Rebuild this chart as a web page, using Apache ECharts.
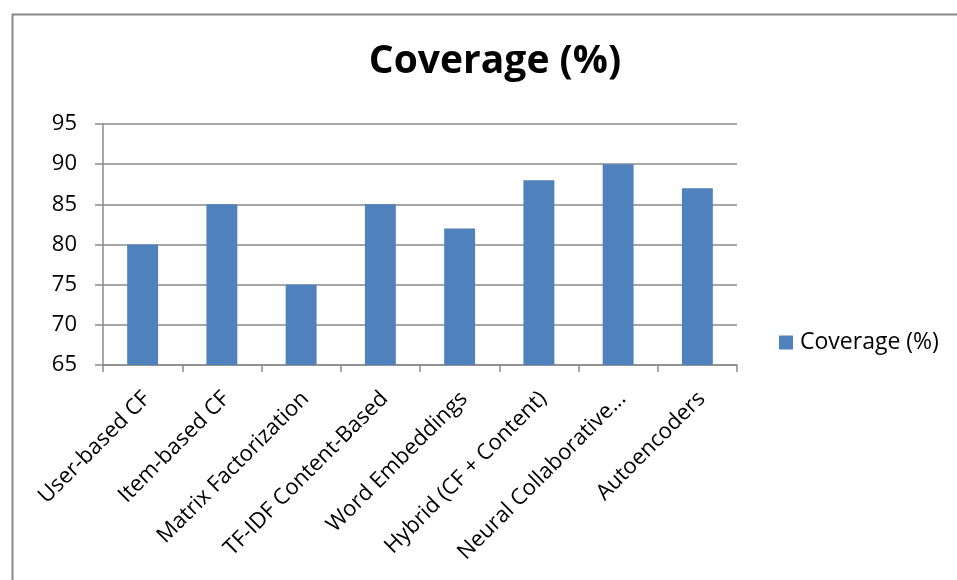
<!DOCTYPE html>
<html>
<head>
<meta charset="utf-8">
<script src="https://cdn.jsdelivr.net/npm/echarts@6/dist/echarts.min.js"></script>
<style>
  html, body { margin: 0; padding: 0; background: #fff; }
  #chart { width: 957px; height: 580px; }
</style>
</head>
<body>
<div id="chart"></div>
<script>
// Recommendation approaches and their catalogue coverage
const categories = [
  'User-based CF',
  'Item-based CF',
  'Matrix Factorization',
  'TF-IDF Content-Based',
  'Word Embeddings',
  'Hybrid (CF + Content)',
  'Neural Collaborative...',
  'Autoencoders'
];
const coverage = [80, 85, 75, 85, 82, 88, 90, 87];
const seriesName = 'Coverage (%)';
const yTicks = { min: 65, max: 95, step: 5 };

const FONT = '"Open Sans", "Noto Sans", sans-serif';
const GREY = '#8a8a8a';

const chart = echarts.init(document.getElementById('chart'), null, { renderer: 'canvas' });

chart.setOption({
  animation: false,
  backgroundColor: '#fff',
  graphic: [{
    type: 'rect',
    left: 10, top: 12,
    shape: { x: 0, y: 0, width: 1000, height: 620 },
    style: { fill: 'none', stroke: GREY, lineWidth: 2 },
    silent: true
  }],
  title: {
    text: seriesName,
    left: 490, top: 37,
    textAlign: 'center',
    textStyle: { fontFamily: FONT, fontWeight: 'bold', fontSize: 39, color: '#000' }
  },
  legend: {
    data: [seriesName],
    orient: 'vertical',
    left: 774, top: 326,
    padding: 5,
    itemWidth: 14, itemHeight: 14, itemGap: 6,
    icon: 'rect',
    textStyle: { fontFamily: FONT, fontSize: 23, color: '#000', padding: [0, 0, 0, 2] }
  },
  grid: { left: 103, right: 220, top: 124, bottom: 215, containLabel: false },
  xAxis: {
    type: 'category',
    data: categories,
    boundaryGap: true,
    axisLine: { show: true, lineStyle: { color: GREY, width: 1.5 } },
    axisTick: { show: true, length: 7, alignWithLabel: false, lineStyle: { color: GREY, width: 1.5 } },
    axisLabel: {
      interval: 0,
      rotate: 45,
      margin: 19,
      verticalAlign: 'top',
      padding: [0, 5, 0, 0],
      fontFamily: FONT,
      fontSize: 22,
      color: '#000'
    }
  },
  yAxis: {
    type: 'value',
    min: yTicks.min,
    max: yTicks.max,
    interval: yTicks.step,
    axisLine: { show: true, lineStyle: { color: GREY, width: 1.5 } },
    axisTick: { show: true, length: 8, lineStyle: { color: GREY, width: 1.5 } },
    axisLabel: { fontFamily: FONT, fontSize: 22, color: '#000', margin: 26 },
    splitLine: { show: true, lineStyle: { color: GREY, width: 1.5 } }
  },
  series: [{
    name: seriesName,
    type: 'bar',
    data: coverage,
    barWidth: '39%',
    itemStyle: { color: '#4f81bd' }
  }]
});
</script>
</body>
</html>
